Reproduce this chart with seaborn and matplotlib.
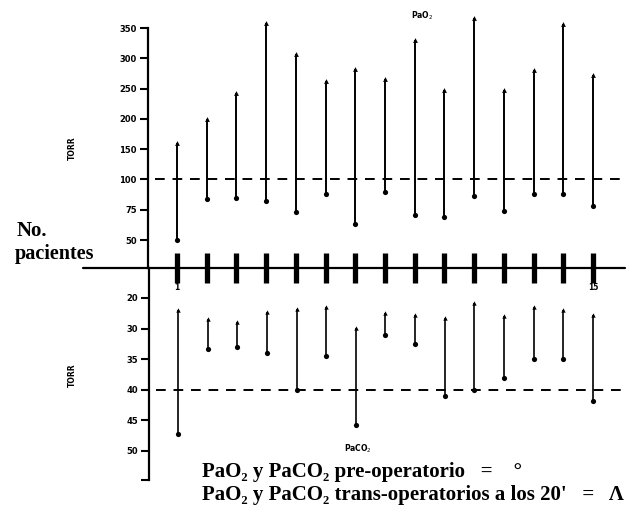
import numpy as np
import pandas as pd
import seaborn as sns
import matplotlib.pyplot as plt

# datos por paciente
pacientes = list(range(1, 16))
pao2_pre = [50, 84, 85, 82, 73, 88, 63, 90, 71, 69, 86, 74, 88, 88, 78]
pao2_trans = [160, 200, 242, 358, 307, 262, 283, 265, 331, 247, 367, 248, 280, 357, 273]
paco2_pre = [47.3, 33.4, 33, 34, 40, 34.5, 45.8, 31, 32.5, 41, 40, 38, 35, 35, 41.8]
paco2_trans = [24, 26.8, 28, 24.5, 23.5, 23, 29.7, 25, 25.5, 26.5, 21.5, 26, 23, 24, 25.5]

pao2_ticks = [50, 75, 100, 150, 200, 250, 300, 350]
paco2_ticks = [20, 30, 35, 40, 45, 50]
pao2_ref = 100
paco2_ref = 40

df = pd.DataFrame({'paciente': pacientes,
                   'pao2_pre': pao2_pre, 'pao2_trans': pao2_trans,
                   'paco2_pre': paco2_pre, 'paco2_trans': paco2_trans})

# escalas por tramos: marcas equiespaciadas
o2_vals = [0, 25] + pao2_ticks + [400]
o2_idx = [-2, -1, 0, 1, 2, 3, 4, 5, 6, 7, 8]
co2_vals = [10] + paco2_ticks + [55, 60]
co2_idx = [-1, 0, 1, 2, 3, 4, 5, 6, 7]


def o2_fwd(v):
    return np.interp(v, o2_vals, o2_idx)


def o2_inv(i):
    return np.interp(i, o2_idx, o2_vals)


def co2_fwd(v):
    return np.interp(v, co2_vals, co2_idx)


def co2_inv(i):
    return np.interp(i, co2_idx, co2_vals)


sns.set_style('white')
plt.rcParams['text.color'] = 'black'
W, H = 631, 514
fig = plt.figure(figsize=(W / 100, H / 100), dpi=100)


def fx(px):
    return px / W


def fy(py):
    return 1 - py / H


ax1 = fig.add_axes([fx(148), fy(268), fx(625) - fx(148), fy(28) - fy(268)])
ax2 = fig.add_axes([fx(149), fy(480), fx(625) - fx(149), fy(268) - fy(480)])

xlim = (1 - 29 / 29.71, 1 + (625 - 177) / 29.71)
serif = ['Liberation Serif', 'DejaVu Serif']

# ---- PaO2 ----
ax1.set_yscale('function', functions=(o2_fwd, o2_inv))
ax1.set_ylim(o2_inv(-0.924), 350)
ax1.set_xlim(*xlim)
ax1.vlines(df['paciente'], df['pao2_pre'], df['pao2_trans'], color='black', lw=1.4, clip_on=False)
sns.scatterplot(data=df, x='paciente', y='pao2_pre', ax=ax1, color='black', marker='o',
                s=14, linewidth=0, clip_on=False, legend=False)
sns.scatterplot(data=df, x='paciente', y='pao2_trans', ax=ax1, color='black', marker='^',
                s=12, linewidth=0, clip_on=False, legend=False)
ax1.hlines(pao2_ref, 1 - 22 / 29.71, xlim[1], color='black', lw=1.4,
           linestyles=(0, (5, 4)), clip_on=False)
# barras de pacientes y eje horizontal
ax1.vlines(df['paciente'], o2_inv(-1.42), o2_inv(-0.43), color='black', lw=3.8, clip_on=False)
ax1.axhline(o2_inv(-0.924), xmin=(83 - 148) / 477, xmax=1, color='black', lw=1.6, clip_on=False)

ax1.set_yticks(pao2_ticks)
ax1.set_yticklabels([str(t) for t in pao2_ticks])
ax1.minorticks_off()
ax1.set_xticks([])
ax1.set_xlabel('')
ax1.set_ylabel('')

# ---- PaCO2 ----
ax2.set_yscale('function', functions=(co2_fwd, co2_inv))
ax2.set_ylim(co2_inv(5.95), co2_inv(-0.98))
ax2.set_xlim(*xlim)
ax2.vlines(df['paciente'], df['paco2_trans'], df['paco2_pre'], color='black', lw=1.2, clip_on=False)
sns.scatterplot(data=df, x='paciente', y='paco2_pre', ax=ax2, color='black', marker='o',
                s=14, linewidth=0, clip_on=False, legend=False)
sns.scatterplot(data=df, x='paciente', y='paco2_trans', ax=ax2, color='black', marker='^',
                s=10, linewidth=0, clip_on=False, legend=False)
ax2.hlines(paco2_ref, 1 - 22 / 29.71, xlim[1], color='black', lw=1.4,
           linestyles=(0, (5, 4)), clip_on=False)
ax2.set_yticks(paco2_ticks + [co2_inv(5.95)])
ax2.set_yticklabels([str(t) for t in paco2_ticks] + [''])
ax2.minorticks_off()
ax2.set_xticks([])
ax2.set_xlabel('')
ax2.set_ylabel('')

for ax in (ax1, ax2):
    sns.despine(ax=ax, top=True, right=True, bottom=True)
    ax.spines['left'].set_linewidth(1.6)
    ax.spines['left'].set_color('black')
    ax.tick_params(axis='y', direction='out', length=6, width=1.5, pad=2,
                   labelsize=6, colors='black', left=True)
    for lab in ax.get_yticklabels():
        lab.set_fontweight('bold')
    ax.patch.set_alpha(0)

# textos
fig.text(fx(177), fy(290), '1', fontsize=5.5, fontweight='bold', ha='center')
fig.text(fx(593), fy(290), '15', fontsize=5.5, fontweight='bold', ha='center')
fig.text(fx(72), fy(148), 'TORR', fontsize=5.5, fontweight='bold', rotation=90, ha='center', va='center')
fig.text(fx(72), fy(375), 'TORR', fontsize=5.5, fontweight='bold', rotation=90, ha='center', va='center')
fig.text(fx(422), fy(16), 'PaO$_2$', fontsize=5.5, fontweight='bold', ha='center', va='center')
fig.text(fx(358), fy(449), 'PaCO$_2$', fontsize=5.5, fontweight='bold', ha='center', va='center')
fig.text(fx(17), fy(236), 'No.', family=serif, fontsize=15, fontweight='bold', ha='left', va='baseline')
fig.text(fx(15), fy(259), 'pacientes', family=serif, fontsize=14.5, fontweight='bold', ha='left', va='baseline')
fig.text(fx(202), fy(477), 'PaO\u2082 y PaCO\u2082 pre-operatorio   =    \u00b0', family=serif,
         fontsize=15, fontweight='bold', ha='left', va='baseline')
fig.text(fx(202), fy(500), "PaO\u2082 y PaCO\u2082 trans-operatorios a los 20'   =   \u039b", family=serif,
         fontsize=15, fontweight='bold', ha='left', va='baseline')

fig.savefig('out.png', dpi=100)
